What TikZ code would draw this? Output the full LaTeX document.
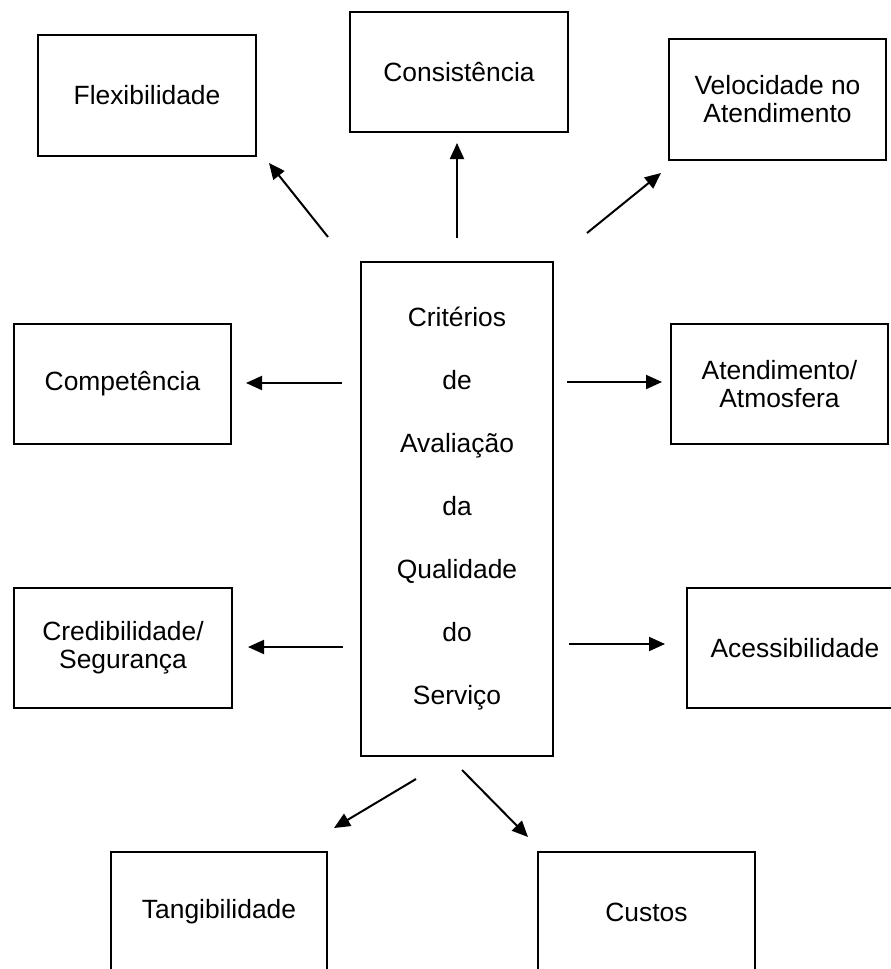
\documentclass[tikz,border=0pt]{standalone}
\usepackage{fontspec}
\setmainfont{Liberation Sans}
\usetikzlibrary{arrows.meta}
\begin{document}
\begin{tikzpicture}[x=1pt,y=-1pt,
  crit/.style={draw, line width=2.2pt, minimum width=217pt, minimum height=120pt,
    align=center, inner sep=0pt, font=\fontsize{26.4}{28}\selectfont},
  link/.style={line width=2pt, -{Triangle[length=16pt,width=14pt]}}]
\useasboundingbox (0,0) rectangle (891,969);

% criteria boxes
\node[crit, minimum width=218pt, minimum height=121pt] (flex) at (147,95.5) {Flexibilidade};
\node[crit, minimum width=218pt] (cons) at (459,72) {Consistência};
\node[crit, minimum height=121pt] (velo) at (777.5,99.5) {Velocidade no\\Atendimento};
\node[crit] (comp) at (122.5,384) {Competência};
\node[crit] (atend) at (779.5,384) {Atendimento/\\Atmosfera};
\node[crit, minimum width=218pt] (cred) at (123,648) {Credibilidade/\\Segurança};
\node[crit, minimum width=216pt] (aces) at (795,648) {Acessibilidade};
\node[crit, minimum width=216pt] (tang) at (219,912) {Tangibilidade};
\node[crit] (cust) at (646.5,912) {Custos};

% central box
\node[crit, minimum width=192pt, minimum height=494pt,
  font=\fontsize{26.4}{63}\selectfont] (main) at (457,509)
  {Critérios\\de\\Avaliação\\da\\Qualidade\\do\\Serviço};

% arrow end points
\coordinate (s1) at (328,237); \coordinate (e1) at (269,163);
\coordinate (s2) at (457,238); \coordinate (e2) at (457,143);
\coordinate (s3) at (587,233); \coordinate (e3) at (661,173);
\coordinate (s4) at (342,383); \coordinate (e4) at (246,383);
\coordinate (s5) at (567,382); \coordinate (e5) at (662,382);
\coordinate (s6) at (343,647); \coordinate (e6) at (248,647);
\coordinate (s7) at (569,644); \coordinate (e7) at (665,644);
\coordinate (s8) at (416,779); \coordinate (e8) at (334,828);
\coordinate (s9) at (462,770); \coordinate (e9) at (528,837);

\foreach \i in {1,...,9} \draw[link] (s\i) -- (e\i);
\end{tikzpicture}
\end{document}
